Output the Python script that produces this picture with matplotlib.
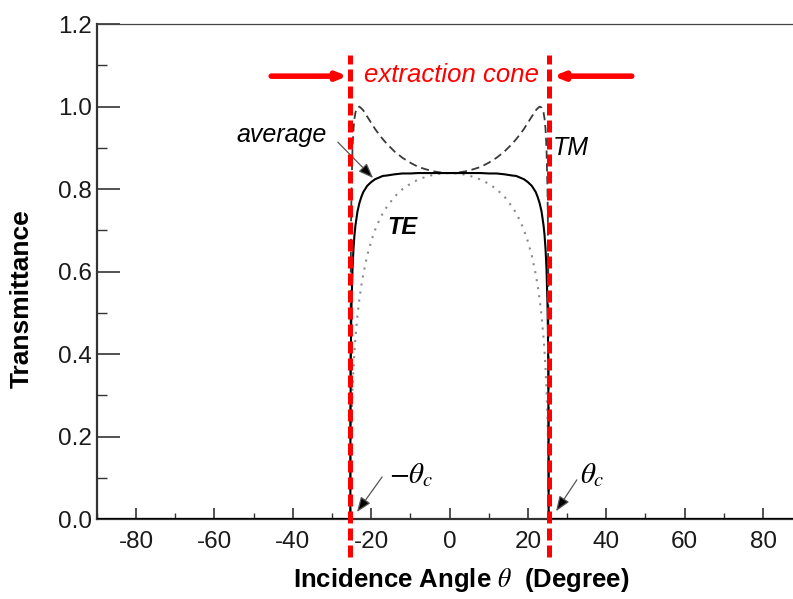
import matplotlib
matplotlib.use("Agg")
import matplotlib.pyplot as plt
from matplotlib.ticker import MultipleLocator

plt.rcParams["font.family"] = ["Liberation Sans", "DejaVu Sans"]
plt.rcParams["mathtext.fontset"] = "stix"
plt.rcParams["axes.unicode_minus"] = False

# Incidence angle (degrees, one half of the symmetric curves) and transmittances
angle_half = [0, 2, 4, 6, 8, 10, 12, 14, 16, 17, 18, 19, 20, 21, 22, 22.5, 23,
              23.5, 24, 24.25, 24.5, 24.75, 25, 25.1, 25.2, 25.28, 25.3, 90]
te_half = [0.839, 0.838, 0.835, 0.830, 0.823, 0.813, 0.800, 0.782, 0.757, 0.742,
           0.723, 0.701, 0.673, 0.639, 0.594, 0.566, 0.533, 0.492, 0.439, 0.406,
           0.366, 0.315, 0.244, 0.205, 0.149, 0.070, 0.0, 0.0]
tm_half = [0.839, 0.840, 0.843, 0.848, 0.854, 0.864, 0.876, 0.891, 0.910, 0.921,
           0.933, 0.946, 0.961, 0.976, 0.991, 0.996, 1.000, 0.998, 0.986, 0.971,
           0.946, 0.899, 0.801, 0.726, 0.594, 0.329, 0.0, 0.0]
avg_half = [0.839, 0.839, 0.839, 0.839, 0.839, 0.838, 0.838, 0.836, 0.833, 0.832,
            0.828, 0.824, 0.817, 0.808, 0.793, 0.781, 0.766, 0.745, 0.712, 0.689,
            0.656, 0.607, 0.523, 0.466, 0.372, 0.199, 0.0, 0.0]

theta_c = 25.5            # critical angle marking the extraction cone
cone_arrow_start = 45.5   # outer ends of the red cone arrows
x_ticks = [-80, -60, -40, -20, 0, 20, 40, 60, 80]
y_ticks = [0.0, 0.2, 0.4, 0.6, 0.8, 1.0, 1.2]


def mirrored(vals):
    return vals[:0:-1] + vals


angle = [-a for a in angle_half[:0:-1]] + angle_half
te = mirrored(te_half)
tm = mirrored(tm_half)
avg = mirrored(avg_half)

fig = plt.figure(figsize=(7.93, 5.99), dpi=100)
ax = fig.add_axes([96.8 / 793, 80 / 599, 705.4 / 793, 494.8 / 599])

ax.plot(angle, tm, color="#3a3a3a", lw=1.3, dashes=(4.5, 2.6), zorder=2)
ax.plot(angle, te, color="#8a8a8a", lw=1.5, dashes=(1, 2.9), zorder=2)
ax.plot(angle, avg, color="black", lw=1.5, zorder=3)

# extraction cone boundaries
for xc in (-theta_c, theta_c):
    ax.plot([xc, xc], [-0.092, 1.125], color="#ff0000", lw=3.6,
            dashes=(2.4, 1.0), clip_on=False, zorder=5)

red_arrow = dict(arrowstyle="-|>,head_length=0.55,head_width=0.22",
                 color="#ff0000", lw=4.0, shrinkA=0, shrinkB=0,
                 mutation_scale=10)
ax.annotate("", xy=(-26.0, 1.074), xytext=(-cone_arrow_start, 1.074),
            arrowprops=red_arrow, zorder=6)
ax.annotate("", xy=(26.5, 1.074), xytext=(cone_arrow_start + 1, 1.074),
            arrowprops=red_arrow, zorder=6)
ax.text(0.5, 1.061, "extraction cone", color="#ff0000", style="italic",
        fontsize=18.5, ha="center", va="baseline", zorder=6)

thin_arrow = dict(arrowstyle="-|>,head_length=0.9,head_width=0.35",
                  ec="#555555", fc="black", lw=0.9, shrinkA=0, shrinkB=0,
                  mutation_scale=10)
ax.text(-42.9, 0.915, "average", style="italic", fontsize=18,
        ha="center", va="baseline")
ax.annotate("", xy=(-19.5, 0.827), xytext=(-28.5, 0.914),
            arrowprops=thin_arrow)
ax.text(-11.9, 0.691, "TE", style="italic", fontweight="bold", fontsize=17,
        ha="center", va="baseline")
ax.text(30.9, 0.883, "TM", style="italic", fontsize=18,
        ha="center", va="baseline")

ax.text(-15.4, 0.087, r"$-\theta_c$", fontsize=21, ha="left", va="baseline")
ax.annotate("", xy=(-23.6, 0.017), xytext=(-17.2, 0.102),
            arrowprops=thin_arrow)
ax.text(33.3, 0.087, r"$\theta_c$", fontsize=21, ha="left", va="baseline")
ax.annotate("", xy=(27.2, 0.019), xytext=(32.5, 0.095),
            arrowprops=thin_arrow)

ax.set_xlim(-90, 90)
ax.set_ylim(0, 1.2)
ax.set_xticks(x_ticks)
ax.set_xticklabels([str(v) for v in x_ticks])
ax.set_yticks(y_ticks)
ax.set_yticklabels([f"{v:.1f}" for v in y_ticks])
ax.xaxis.set_minor_locator(MultipleLocator(10))
ax.yaxis.set_minor_locator(MultipleLocator(0.1))

ax.tick_params(axis="both", which="both", direction="in", color="#333333",
               labelcolor="#1a1a1a", labelsize=17.5, top=False, right=False)
ax.tick_params(axis="y", which="major", length=16.5, width=1.2, pad=3.6)
ax.tick_params(axis="y", which="minor", length=7.5, width=1.0)
ax.tick_params(axis="x", which="major", length=8, width=1.2, pad=8.4)
ax.tick_params(axis="x", which="minor", length=4.5, width=1.0)

for side in ("left", "bottom"):
    ax.spines[side].set_linewidth(1.6)
    ax.spines[side].set_color("#333333")
ax.spines["top"].set_linewidth(0.9)
ax.spines["top"].set_color("#444444")
ax.spines["right"].set_visible(False)

ax.set_xlabel(r"Incidence Angle $\theta$  (Degree)", fontsize=18.5,
              fontweight="bold")
ax.xaxis.set_label_coords(0.517, -0.1233)
ax.xaxis.label.set_va("center")
ax.set_ylabel("Transmittance", fontsize=19, fontweight="bold")
ax.yaxis.set_label_coords(-0.106, 0.4456)
ax.yaxis.label.set_va("center")

fig.savefig("out.png", dpi=100)
